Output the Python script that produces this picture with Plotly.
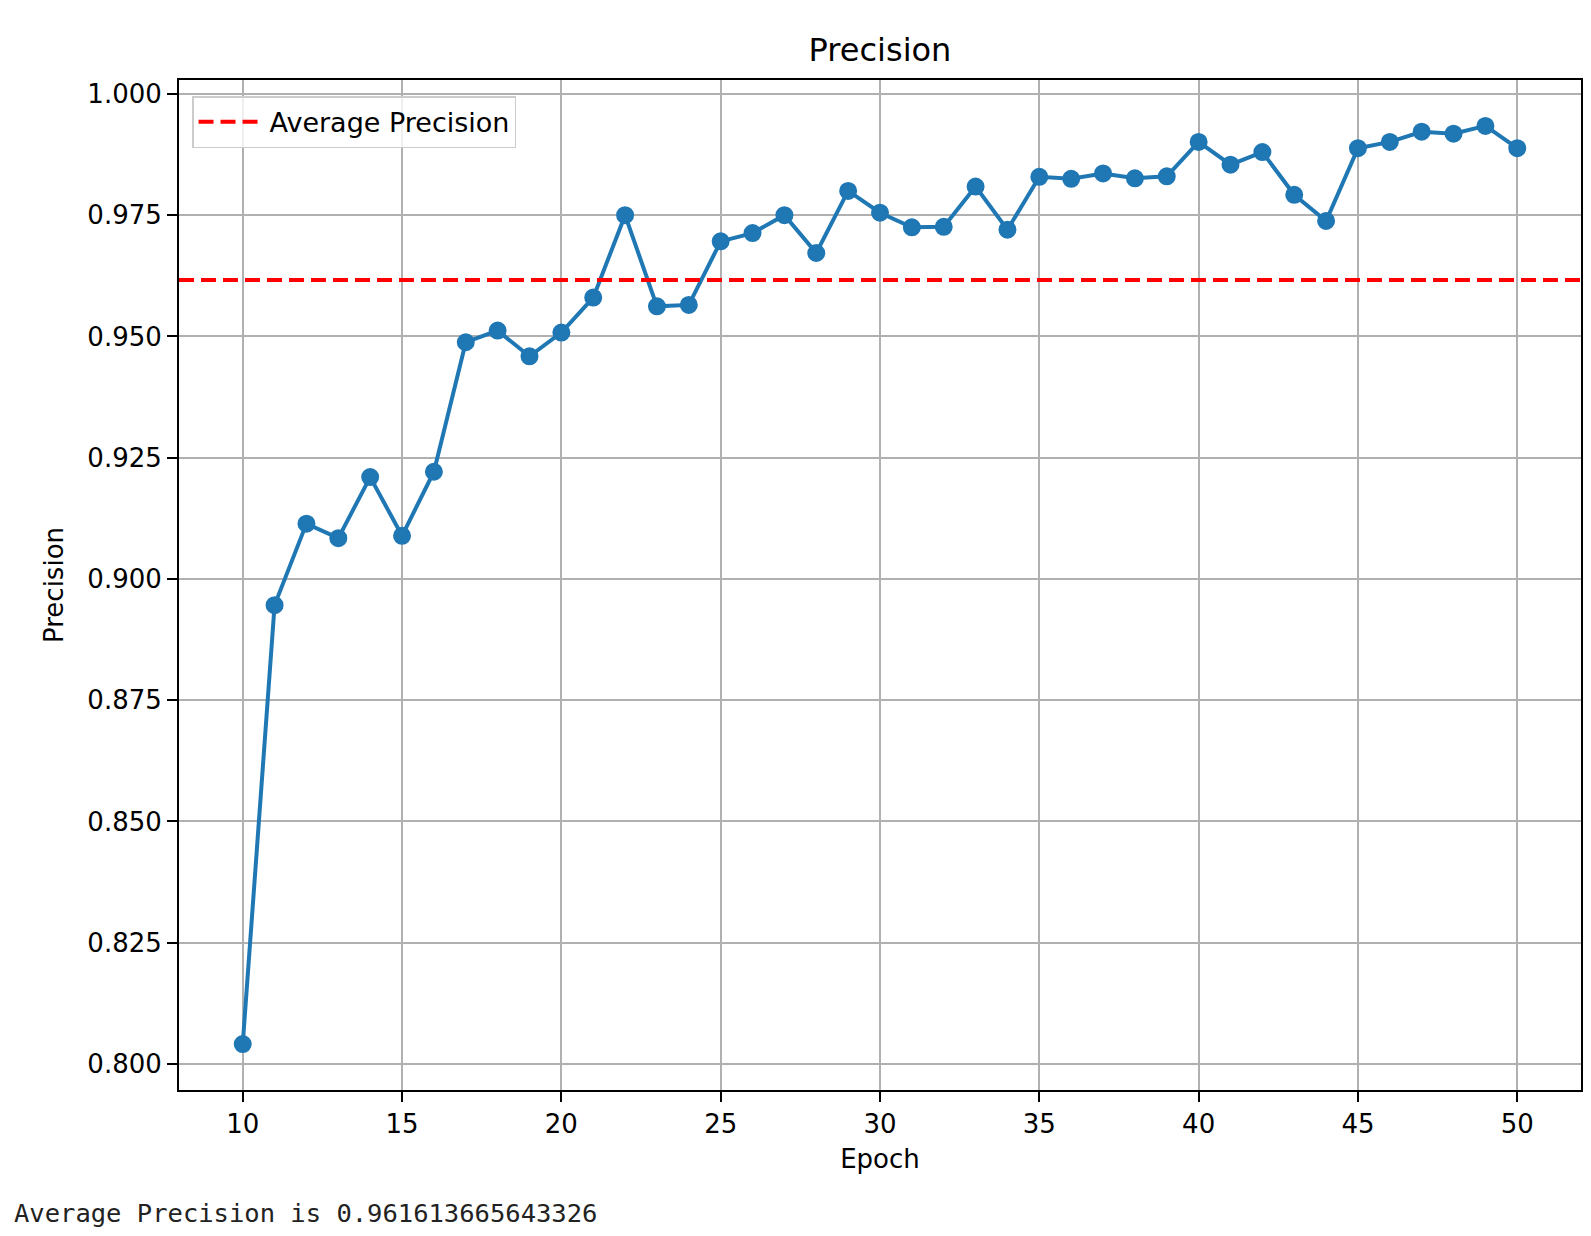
import plotly.graph_objects as go

# ---- data ----
epochs = list(range(10, 51))
precision = [
    0.8041, 0.8946, 0.9114, 0.9084, 0.9210, 0.9089, 0.9221, 0.9488, 0.9512, 0.9459,
    0.9508, 0.9580, 0.9750, 0.9562, 0.9565, 0.9696, 0.9713, 0.9750, 0.9672, 0.9800,
    0.9755, 0.9725, 0.9726, 0.9809, 0.9720, 0.9829, 0.9825, 0.9836, 0.9826, 0.9830,
    0.9901, 0.9854, 0.9880, 0.9792, 0.9738, 0.9888, 0.9901, 0.9922, 0.9918, 0.9934,
    0.9888,
]
average_precision = 0.961613665643326
title_text = "Precision"
x_label = "Epoch"
y_label = "Precision"
legend_label = "Average Precision"

# matplotlib-like 5% auto margins
def padded(lo, hi, frac=0.05):
    d = (hi - lo) * frac
    return [lo - d, hi + d]

x_range = padded(min(epochs), max(epochs))
y_range = padded(min(precision), max(precision))

FONT = "DejaVu Sans"
BLUE = "#1f77b4"

fig = go.Figure()
fig.add_trace(go.Scatter(
    x=epochs, y=precision, mode="lines+markers",
    line=dict(color=BLUE, width=4),
    marker=dict(color=BLUE, size=16, line=dict(color=BLUE, width=2)),
    showlegend=False, hoverinfo="x+y",
))
fig.add_hline(
    y=average_precision,
    line=dict(color="red", width=4, dash="15px,7px"),
    showlegend=True, name=legend_label, layer="above",
)

axis_common = dict(
    showline=True, linecolor="black", linewidth=2, mirror=True,
    ticks="outside", ticklen=10, tickwidth=2, tickcolor="black",
    showgrid=True, gridcolor="#b0b0b0", gridwidth=2,
    zeroline=False,
    tickfont=dict(family=FONT, size=26, color="black"),
)

fig.update_layout(
    width=1591, height=1236,
    paper_bgcolor="white", plot_bgcolor="white",
    margin=dict(l=171, r=18, t=72, b=154),
    font=dict(family=FONT, color="black"),
    title=dict(text=title_text, x=0.5, xref="paper", xanchor="center",
               y=1 - 42 / 1236, yref="container", yanchor="middle",
               font=dict(family=FONT, size=32, color="black")),
    xaxis=dict(range=x_range, tick0=0, dtick=5,
               title=dict(text=x_label, font=dict(family=FONT, size=26, color="black"), standoff=12),
               **axis_common),
    yaxis=dict(range=y_range, tick0=0, dtick=0.025, tickformat=".3f",
               title=dict(text=y_label, font=dict(family=FONT, size=26, color="black"), standoff=16),
               **axis_common),
    legend=dict(x=0.0093, y=0.984, xanchor="left", yanchor="top",
                itemwidth=66,
                bgcolor="rgba(255,255,255,0.8)", bordercolor="#cccccc", borderwidth=1.5,
                font=dict(family=FONT, size=27, color="black")),
)

fig.add_annotation(
    text=f"Average Precision is {average_precision}",
    xref="paper", yref="paper", x=(4 - 171) / 1402, y=(1082 - 1205) / 1010,
    xanchor="left", yanchor="middle", showarrow=False,
    font=dict(family="DejaVu Sans Mono", size=25.5, color="#222222"),
)

fig.write_html("out.html")
